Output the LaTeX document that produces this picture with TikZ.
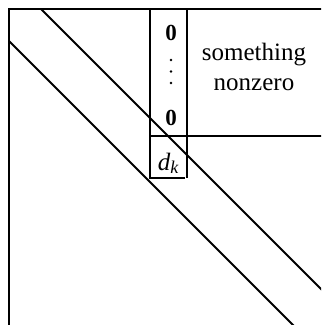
\documentclass[tikz,border=0pt]{standalone}
\usepackage{fontspec}
\setmainfont{Liberation Serif}
\begin{document}
\begin{tikzpicture}[x=0.5pt,y=-0.5pt,
  ln/.style={line width=1pt,line cap=butt},
  txt/.style={inner sep=0pt,anchor=base,font=\fontsize{12.5}{15}\selectfont},
  zero/.style={inner sep=0pt,anchor=base,font=\fontsize{11.5}{14}\selectfont\bfseries},
  dotmark/.style={fill=black,draw=none}]
\useasboundingbox (0,0) rectangle (321,325);
\clip (0,0) rectangle (321,325);
% outer frame (left and top)
\draw[ln] (9,330) -- (9,9) -- (330,9);
% band diagonals
\draw[ln] (41,9) -- (330,298);
\draw[ln] (9,41) -- (300,332);
% column of zeros and d_k box
\draw[ln] (150,9) -- (150,178) -- (185,178);
\draw[ln] (187,9) -- (187,178);
\draw[ln] (150,136) -- (330,136);
% texts
\node[zero] (z1) at (171,41) {0};
\fill[dotmark] (171,60) circle (1.4);
\fill[dotmark] (171,71.5) circle (1.4);
\fill[dotmark] (171,83) circle (1.4);
\node[zero] (z2) at (171,126) {0};
\node[txt] (dk) at (168,170) {\itshape d\raisebox{-0.3ex}{\fontsize{9}{9}\selectfont k}};
\node[txt] (s1) at (254,61) {something};
\node[txt] (s2) at (254,91) {nonzero};
\end{tikzpicture}
\end{document}
